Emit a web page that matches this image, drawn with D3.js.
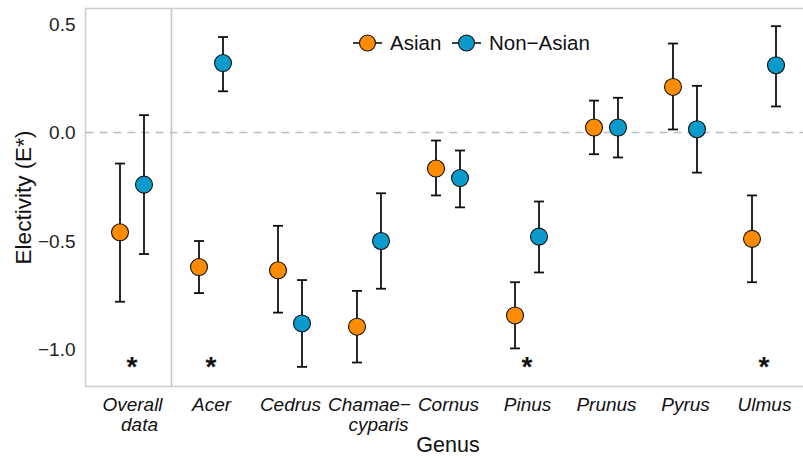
<!DOCTYPE html>
<html>
<head>
<meta charset="utf-8">
<script src="https://cdn.jsdelivr.net/npm/d3@7"></script>
<style>
  html, body { margin: 0; padding: 0; background: #fff; }
  svg { display: block; font-family: "Liberation Sans", Arial, sans-serif; }
</style>
</head>
<body>
<svg id="chart" width="803" height="458"></svg>
<script>
// Genus categories (multi-line labels split on "\n")
const categories = ["Overall\ndata", "Acer", "Cedrus", "Chamae\u2212\ncyparis", "Cornus", "Pinus", "Prunus", "Pyrus", "Ulmus"];
const groups = ["Asian", "Non\u2212Asian"];

// Electivity estimates with confidence limits
const asianMean  = [-0.46, -0.62, -0.635, -0.895, -0.166, -0.843, 0.023, 0.21, -0.49];
const asianLow   = [-0.78, -0.74, -0.83, -1.06, -0.29, -0.995, -0.10, 0.014, -0.69];
const asianHigh  = [-0.143, -0.50, -0.43, -0.73, -0.037, -0.69, 0.147, 0.41, -0.29];

const nonAsianMean = [-0.24, 0.32, -0.88, -0.50, -0.21, -0.48, 0.023, 0.015, 0.31];
const nonAsianLow  = [-0.56, 0.19, -1.08, -0.72, -0.345, -0.645, -0.115, -0.185, 0.12];
const nonAsianHigh = [0.08, 0.44, -0.68, -0.28, -0.083, -0.318, 0.16, 0.215, 0.49];

// Genera with a significant difference between groups
const significant = ["Overall\ndata", "Acer", "Pinus", "Ulmus"];
const yTicks = [0.5, 0.0, -0.5, -1.0];

const colors = { "Asian": "#ff8c00", "Non\u2212Asian": "#0a9acc" };
const FONT = "'Liberation Sans', Arial, sans-serif";

const svg = d3.select("#chart");
const panel = { left: 85.5, top: 8.5, right: 811, bottom: 386.5 };

const x = d3.scalePoint().domain(categories).range([132, 764]);
const dodge = d3.scalePoint().domain(groups).range([-12, 12]);
const y = d3.scaleLinear().domain([-1, 0.5]).range([349.5, 24]);

const rows = [];
categories.forEach((c, i) => {
  rows.push({ cat: c, group: groups[0], mean: asianMean[i], lo: asianLow[i], hi: asianHigh[i] });
  rows.push({ cat: c, group: groups[1], mean: nonAsianMean[i], lo: nonAsianLow[i], hi: nonAsianHigh[i] });
});

// panel border
svg.append("rect")
  .attr("x", panel.left).attr("y", panel.top)
  .attr("width", panel.right - panel.left).attr("height", panel.bottom - panel.top)
  .attr("fill", "none").attr("stroke", "#cfcfcf").attr("stroke-width", 1.6);

// zero reference line
svg.append("line")
  .attr("x1", panel.left).attr("x2", panel.right)
  .attr("y1", y(0)).attr("y2", y(0))
  .attr("stroke", "#bdbdbd").attr("stroke-width", 1.4).attr("stroke-dasharray", "8,6");

// separator between overall and per-genus results
const sepX = (x(categories[0]) + x(categories[1])) / 2;
svg.append("line")
  .attr("x1", sepX).attr("x2", sepX)
  .attr("y1", panel.top).attr("y2", panel.bottom)
  .attr("stroke", "#c4c4c4").attr("stroke-width", 1.6);

// y axis (labels only)
const yAxis = d3.axisLeft(y).tickValues(yTicks).tickSize(0).tickPadding(10)
  .tickFormat(d => d3.format(".1f")(d).replace("-", "\u2212"));
const gy = svg.append("g").attr("transform", `translate(${panel.left},0)`).call(yAxis);
gy.select(".domain").remove();
gy.selectAll("text").attr("font-size", 19).attr("fill", "#222").attr("font-family", FONT);

// x axis (italic genus names); wrapped second lines sit slightly right
const lineShift = { "data": 7, "cyparis": 9 };
const xAxis = d3.axisBottom(x).tickSize(0).tickFormat(() => "");
const gx = svg.append("g").attr("transform", `translate(0,${panel.bottom})`).call(xAxis);
gx.select(".domain").remove();
gx.selectAll(".tick").each(function(d) {
  const t = d3.select(this).append("text")
    .attr("fill", "#111").attr("font-size", 19).attr("font-style", "italic")
    .attr("text-anchor", "middle").attr("font-family", FONT);
  d.split("\n").forEach((line, k) => {
    t.append("tspan").attr("x", lineShift[line] || 0).attr("y", 24 + k * 20).text(line);
  });
});

// axis titles
svg.append("text")
  .attr("x", 448).attr("y", 452)
  .attr("text-anchor", "middle").attr("font-size", 21.5).attr("fill", "#111")
  .attr("font-family", FONT).text("Genus");
svg.append("text")
  .attr("transform", `translate(31,${(panel.top + panel.bottom) / 2}) rotate(-90)`)
  .attr("text-anchor", "middle").attr("font-size", 22.5).attr("fill", "#111")
  .attr("font-family", FONT).text("Electivity (E*)");

// error bars
const bars = svg.append("g").selectAll("g").data(rows).join("g")
  .attr("transform", d => `translate(${x(d.cat) + dodge(d.group)},0)`);
bars.append("line")
  .attr("y1", d => y(d.lo)).attr("y2", d => y(d.hi))
  .attr("stroke", "#111").attr("stroke-width", 1.8);
bars.append("line")
  .attr("x1", -5).attr("x2", 5).attr("y1", d => y(d.lo)).attr("y2", d => y(d.lo))
  .attr("stroke", "#111").attr("stroke-width", 1.8);
bars.append("line")
  .attr("x1", -5).attr("x2", 5).attr("y1", d => y(d.hi)).attr("y2", d => y(d.hi))
  .attr("stroke", "#111").attr("stroke-width", 1.8);
bars.append("circle")
  .attr("cy", d => y(d.mean)).attr("r", 8.5)
  .attr("fill", d => colors[d.group]).attr("stroke", "#111").attr("stroke-width", 1.1);

// significance markers
svg.append("g").selectAll("text").data(significant).join("text")
  .attr("x", d => x(d)).attr("y", y(-1.065) + 12)
  .attr("text-anchor", "middle").attr("font-size", 28).attr("font-weight", "bold")
  .attr("fill", "#111").attr("font-family", FONT).text("*");

// legend
const legend = svg.append("g").attr("transform", "translate(353,43)");
const legendX = [0, 99];
groups.forEach((g, i) => {
  const item = legend.append("g").attr("transform", `translate(${legendX[i]},0)`);
  item.append("line").attr("x1", 0).attr("x2", 29).attr("stroke", "#111").attr("stroke-width", 1.6);
  item.append("circle").attr("cx", 14.5).attr("r", 8).attr("fill", colors[g])
    .attr("stroke", "#111").attr("stroke-width", 1.1);
  item.append("text").attr("x", 37).attr("y", 7).attr("font-size", 20.5).attr("fill", "#111")
    .attr("font-family", FONT).text(g);
});
</script>
</body>
</html>
